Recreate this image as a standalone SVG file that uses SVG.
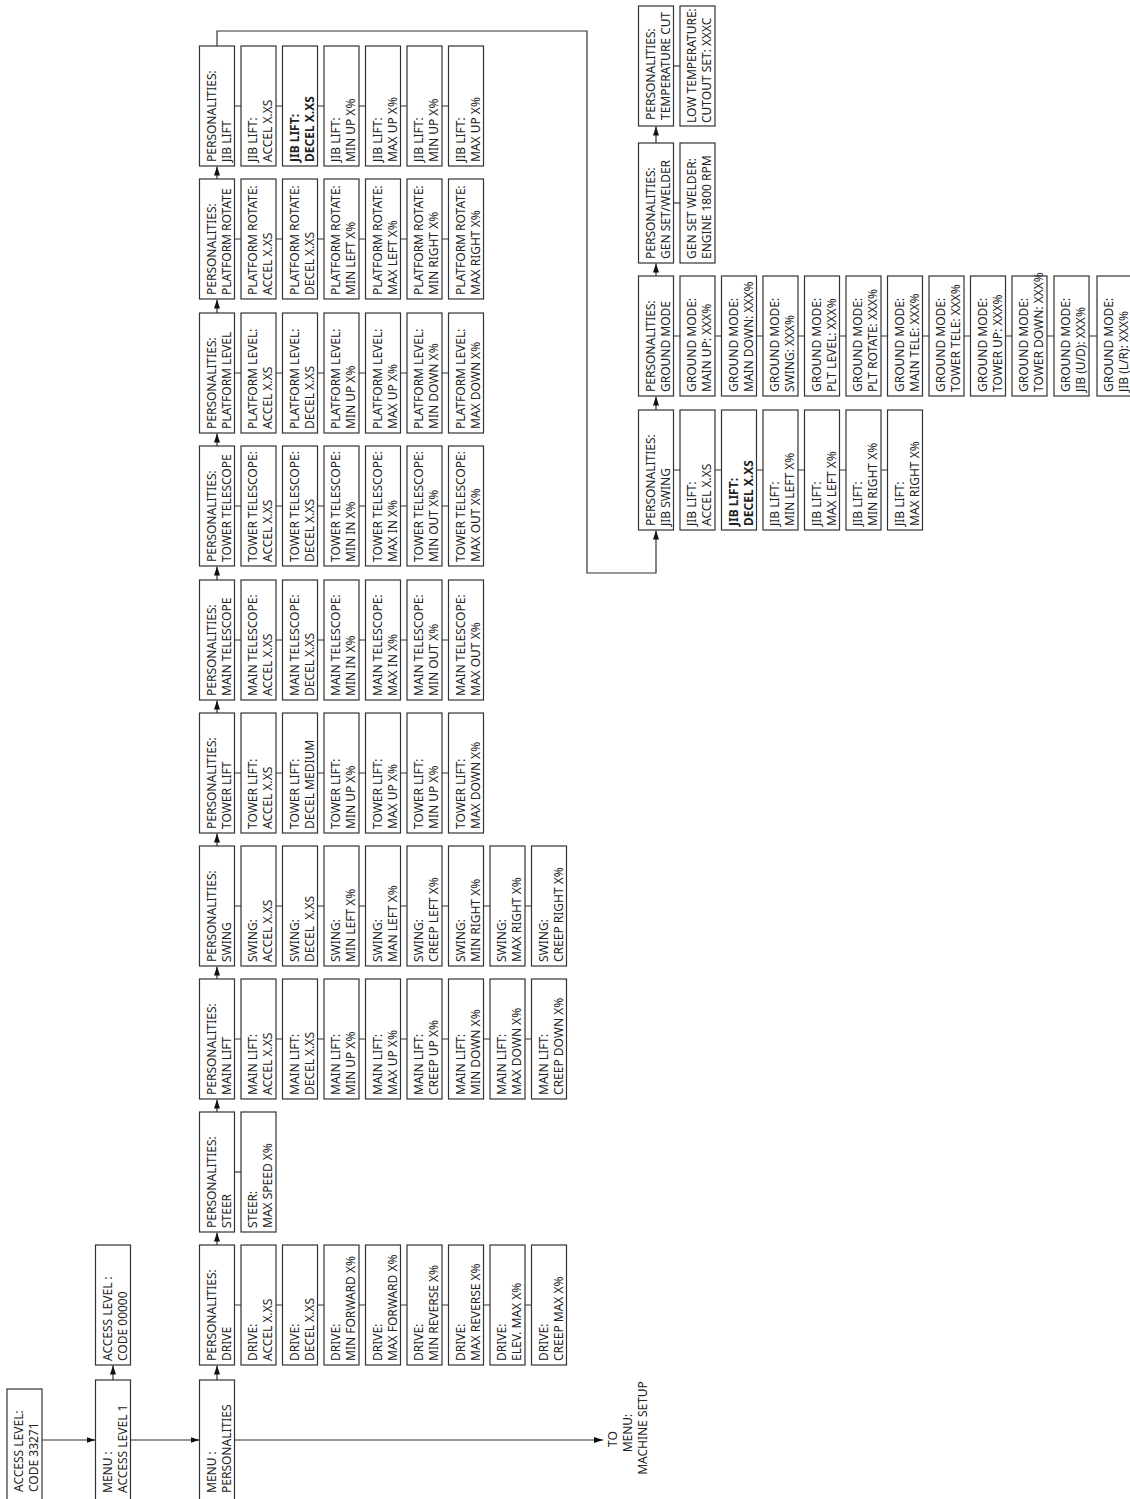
<svg xmlns="http://www.w3.org/2000/svg" width="1130" height="1499" viewBox="0 0 1130 1499">
<style>
.n rect{fill:#fff;stroke:#333;stroke-width:1.2}
.n text{font-family:"Noto Sans","DejaVu Sans",sans-serif;font-size:12px;fill:#222}
.b text{font-weight:bold}
.c{fill:none;stroke:#333;stroke-width:1.2}
.lbl{font-family:"Noto Sans","DejaVu Sans",sans-serif;font-size:12px;fill:#222;text-anchor:middle}
</style>
<defs>
<marker id="ah" markerUnits="userSpaceOnUse" markerWidth="9" markerHeight="6" refX="9" refY="3" orient="auto"><path d="M0,0L9,3L0,6z" fill="#111"/></marker>
</defs>
<rect width="1130" height="1499" fill="#fff"/>
<g id="connectors">
<path class="c" d="M42 1440H95.5" marker-end="url(#ah)"/>
<path class="c" d="M130.5 1440H199.5" marker-end="url(#ah)"/>
<path class="c" d="M234.5 1440H603" marker-end="url(#ah)"/>
<path class="c" d="M113 1380V1365.5" marker-end="url(#ah)"/>
<path class="c" d="M217 1380V1365.5" marker-end="url(#ah)"/>
<path class="c" d="M217 1245V1232.5" marker-end="url(#ah)"/>
<path class="c" d="M217 1112V1099.5" marker-end="url(#ah)"/>
<path class="c" d="M217 979V966.5" marker-end="url(#ah)"/>
<path class="c" d="M217 846V833.5" marker-end="url(#ah)"/>
<path class="c" d="M217 713V700.5" marker-end="url(#ah)"/>
<path class="c" d="M217 580V566.5" marker-end="url(#ah)"/>
<path class="c" d="M217 446V433.5" marker-end="url(#ah)"/>
<path class="c" d="M217 313V299.5" marker-end="url(#ah)"/>
<path class="c" d="M217 179V166.5" marker-end="url(#ah)"/>
<path class="c" d="M217 46V31H587V573H656V530.5" marker-end="url(#ah)"/>
<path class="c" d="M656 410V396.5" marker-end="url(#ah)"/>
<path class="c" d="M656 276V263.5" marker-end="url(#ah)"/>
<path class="c" d="M656 143V126.5" marker-end="url(#ah)"/>
<path class="c" d="M234.5 1305H241M276 1305H282.5M317.5 1305H324M359 1305H365.5M400.5 1305H407M442 1305H448.5M483.5 1305H490M525 1305H531.5"/>
<path class="c" d="M234.5 1172H241"/>
<path class="c" d="M234.5 1039H241M276 1039H282.5M317.5 1039H324M359 1039H365.5M400.5 1039H407M442 1039H448.5M483.5 1039H490M525 1039H531.5"/>
<path class="c" d="M234.5 906H241M276 906H282.5M317.5 906H324M359 906H365.5M400.5 906H407M442 906H448.5M483.5 906H490M525 906H531.5"/>
<path class="c" d="M234.5 773H241M276 773H282.5M317.5 773H324M359 773H365.5M400.5 773H407M442 773H448.5"/>
<path class="c" d="M234.5 640H241M276 640H282.5M317.5 640H324M359 640H365.5M400.5 640H407M442 640H448.5"/>
<path class="c" d="M234.5 506H241M276 506H282.5M317.5 506H324M359 506H365.5M400.5 506H407M442 506H448.5"/>
<path class="c" d="M234.5 373H241M276 373H282.5M317.5 373H324M359 373H365.5M400.5 373H407M442 373H448.5"/>
<path class="c" d="M234.5 239H241M276 239H282.5M317.5 239H324M359 239H365.5M400.5 239H407M442 239H448.5"/>
<path class="c" d="M234.5 106H241M276 106H282.5M317.5 106H324M359 106H365.5M400.5 106H407M442 106H448.5"/>
<path class="c" d="M673.5 66H680"/>
<path class="c" d="M673.5 203H680"/>
<path class="c" d="M673.5 336H680M715 336H721.5M756.5 336H763M798 336H804.5M839.5 336H846M881 336H887.5M922.5 336H929M964 336H970.5M1005.5 336H1012M1047 336H1054M1089 336H1097"/>
<path class="c" d="M673.5 470H680M715 470H721.5M756.5 470H763M798 470H804.5M839.5 470H846M881 470H887.5"/>
</g>

<g id="acc33271" class="n" transform="translate(7,1389)"><rect width="35" height="125"/><text transform="translate(16,103) rotate(-90)"><tspan x="0">ACCESS LEVEL:</tspan><tspan x="0" y="15">CODE 33271</tspan></text></g>
<g id="menu-al1" class="n" transform="translate(95.5,1380)"><rect width="35" height="135"/><text transform="translate(16,113) rotate(-90)"><tspan x="0">MENU :</tspan><tspan x="0" y="15">ACCESS LEVEL 1</tspan></text></g>
<g id="acc00000" class="n" transform="translate(95.5,1245)"><rect width="35" height="120"/><text transform="translate(16,116) rotate(-90)"><tspan x="0">ACCESS LEVEL :</tspan><tspan x="0" y="15">CODE 00000</tspan></text></g>
<g id="menu-pers" class="n" transform="translate(199.5,1380)"><rect width="35" height="135"/><text transform="translate(16,113) rotate(-90)"><tspan x="0">MENU :</tspan><tspan x="0" y="15">PERSONALITIES</tspan></text></g>
<g id="to-setup"><text class="lbl" transform="translate(617,1439) rotate(-90)">TO</text><text class="lbl" transform="translate(632,1433) rotate(-90)">MENU:</text><text class="lbl" transform="translate(647,1428) rotate(-90)">MACHINE SETUP</text></g>

<g id="d0" class="n" transform="translate(199.5,1245)"><rect width="35" height="120"/><text transform="translate(16,116) rotate(-90)"><tspan x="0">PERSONALITIES:</tspan><tspan x="0" y="15">DRIVE</tspan></text></g>
<g id="d1" class="n" transform="translate(241,1245)"><rect width="35" height="120"/><text transform="translate(16,116) rotate(-90)"><tspan x="0">DRIVE:</tspan><tspan x="0" y="15">ACCEL X.XS</tspan></text></g>
<g id="d2" class="n" transform="translate(282.5,1245)"><rect width="35" height="120"/><text transform="translate(16,116) rotate(-90)"><tspan x="0">DRIVE:</tspan><tspan x="0" y="15">DECEL X.XS</tspan></text></g>
<g id="d3" class="n" transform="translate(324,1245)"><rect width="35" height="120"/><text transform="translate(16,116) rotate(-90)"><tspan x="0">DRIVE:</tspan><tspan x="0" y="15">MIN FORWARD X%</tspan></text></g>
<g id="d4" class="n" transform="translate(365.5,1245)"><rect width="35" height="120"/><text transform="translate(16,116) rotate(-90)"><tspan x="0">DRIVE:</tspan><tspan x="0" y="15">MAX FORWARD X%</tspan></text></g>
<g id="d5" class="n" transform="translate(407,1245)"><rect width="35" height="120"/><text transform="translate(16,116) rotate(-90)"><tspan x="0">DRIVE:</tspan><tspan x="0" y="15">MIN REVERSE X%</tspan></text></g>
<g id="d6" class="n" transform="translate(448.5,1245)"><rect width="35" height="120"/><text transform="translate(16,116) rotate(-90)"><tspan x="0">DRIVE:</tspan><tspan x="0" y="15">MAX REVERSE X%</tspan></text></g>
<g id="d7" class="n" transform="translate(490,1245)"><rect width="35" height="120"/><text transform="translate(16,116) rotate(-90)"><tspan x="0">DRIVE:</tspan><tspan x="0" y="15">ELEV. MAX X%</tspan></text></g>
<g id="d8" class="n" transform="translate(531.5,1245)"><rect width="35" height="120"/><text transform="translate(16,116) rotate(-90)"><tspan x="0">DRIVE:</tspan><tspan x="0" y="15">CREEP MAX X%</tspan></text></g>

<g id="st0" class="n" transform="translate(199.5,1112)"><rect width="35" height="120"/><text transform="translate(16,116) rotate(-90)"><tspan x="0">PERSONALITIES:</tspan><tspan x="0" y="15">STEER</tspan></text></g>
<g id="st1" class="n" transform="translate(241,1112)"><rect width="35" height="120"/><text transform="translate(16,116) rotate(-90)"><tspan x="0">STEER:</tspan><tspan x="0" y="15">MAX SPEED X%</tspan></text></g>

<g id="ml0" class="n" transform="translate(199.5,979)"><rect width="35" height="120"/><text transform="translate(16,116) rotate(-90)"><tspan x="0">PERSONALITIES:</tspan><tspan x="0" y="15">MAIN LIFT</tspan></text></g>
<g id="ml1" class="n" transform="translate(241,979)"><rect width="35" height="120"/><text transform="translate(16,116) rotate(-90)"><tspan x="0">MAIN LIFT:</tspan><tspan x="0" y="15">ACCEL X.XS</tspan></text></g>
<g id="ml2" class="n" transform="translate(282.5,979)"><rect width="35" height="120"/><text transform="translate(16,116) rotate(-90)"><tspan x="0">MAIN LIFT:</tspan><tspan x="0" y="15">DECEL X.XS</tspan></text></g>
<g id="ml3" class="n" transform="translate(324,979)"><rect width="35" height="120"/><text transform="translate(16,116) rotate(-90)"><tspan x="0">MAIN LIFT:</tspan><tspan x="0" y="15">MIN UP X%</tspan></text></g>
<g id="ml4" class="n" transform="translate(365.5,979)"><rect width="35" height="120"/><text transform="translate(16,116) rotate(-90)"><tspan x="0">MAIN LIFT:</tspan><tspan x="0" y="15">MAX UP X%</tspan></text></g>
<g id="ml5" class="n" transform="translate(407,979)"><rect width="35" height="120"/><text transform="translate(16,116) rotate(-90)"><tspan x="0">MAIN LIFT:</tspan><tspan x="0" y="15">CREEP UP X%</tspan></text></g>
<g id="ml6" class="n" transform="translate(448.5,979)"><rect width="35" height="120"/><text transform="translate(16,116) rotate(-90)"><tspan x="0">MAIN LIFT:</tspan><tspan x="0" y="15">MIN DOWN X%</tspan></text></g>
<g id="ml7" class="n" transform="translate(490,979)"><rect width="35" height="120"/><text transform="translate(16,116) rotate(-90)"><tspan x="0">MAIN LIFT:</tspan><tspan x="0" y="15">MAX DOWN X%</tspan></text></g>
<g id="ml8" class="n" transform="translate(531.5,979)"><rect width="35" height="120"/><text transform="translate(16,116) rotate(-90)"><tspan x="0">MAIN LIFT:</tspan><tspan x="0" y="15">CREEP DOWN X%</tspan></text></g>

<g id="sw0" class="n" transform="translate(199.5,846)"><rect width="35" height="120"/><text transform="translate(16,116) rotate(-90)"><tspan x="0">PERSONALITIES:</tspan><tspan x="0" y="15">SWING</tspan></text></g>
<g id="sw1" class="n" transform="translate(241,846)"><rect width="35" height="120"/><text transform="translate(16,116) rotate(-90)"><tspan x="0">SWING:</tspan><tspan x="0" y="15">ACCEL X.XS</tspan></text></g>
<g id="sw2" class="n" transform="translate(282.5,846)"><rect width="35" height="120"/><text transform="translate(16,116) rotate(-90)" xml:space="preserve"><tspan x="0">SWING:</tspan><tspan x="0" y="15">DECEL  X.XS</tspan></text></g>
<g id="sw3" class="n" transform="translate(324,846)"><rect width="35" height="120"/><text transform="translate(16,116) rotate(-90)"><tspan x="0">SWING:</tspan><tspan x="0" y="15">MIN LEFT X%</tspan></text></g>
<g id="sw4" class="n" transform="translate(365.5,846)"><rect width="35" height="120"/><text transform="translate(16,116) rotate(-90)"><tspan x="0">SWING:</tspan><tspan x="0" y="15">MAN LEFT X%</tspan></text></g>
<g id="sw5" class="n" transform="translate(407,846)"><rect width="35" height="120"/><text transform="translate(16,116) rotate(-90)"><tspan x="0">SWING:</tspan><tspan x="0" y="15">CREEP LEFT X%</tspan></text></g>
<g id="sw6" class="n" transform="translate(448.5,846)"><rect width="35" height="120"/><text transform="translate(16,116) rotate(-90)"><tspan x="0">SWING:</tspan><tspan x="0" y="15">MIN RIGHT X%</tspan></text></g>
<g id="sw7" class="n" transform="translate(490,846)"><rect width="35" height="120"/><text transform="translate(16,116) rotate(-90)"><tspan x="0">SWING:</tspan><tspan x="0" y="15">MAX RIGHT X%</tspan></text></g>
<g id="sw8" class="n" transform="translate(531.5,846)"><rect width="35" height="120"/><text transform="translate(16,116) rotate(-90)"><tspan x="0">SWING:</tspan><tspan x="0" y="15">CREEP RIGHT X%</tspan></text></g>

<g id="tl0" class="n" transform="translate(199.5,713)"><rect width="35" height="120"/><text transform="translate(16,116) rotate(-90)"><tspan x="0">PERSONALITIES:</tspan><tspan x="0" y="15">TOWER LIFT</tspan></text></g>
<g id="tl1" class="n" transform="translate(241,713)"><rect width="35" height="120"/><text transform="translate(16,116) rotate(-90)"><tspan x="0">TOWER LIFT:</tspan><tspan x="0" y="15">ACCEL X.XS</tspan></text></g>
<g id="tl2" class="n" transform="translate(282.5,713)"><rect width="35" height="120"/><text transform="translate(16,116) rotate(-90)"><tspan x="0">TOWER LIFT:</tspan><tspan x="0" y="15">DECEL MEDIUM</tspan></text></g>
<g id="tl3" class="n" transform="translate(324,713)"><rect width="35" height="120"/><text transform="translate(16,116) rotate(-90)"><tspan x="0">TOWER LIFT:</tspan><tspan x="0" y="15">MIN UP X%</tspan></text></g>
<g id="tl4" class="n" transform="translate(365.5,713)"><rect width="35" height="120"/><text transform="translate(16,116) rotate(-90)"><tspan x="0">TOWER LIFT:</tspan><tspan x="0" y="15">MAX UP X%</tspan></text></g>
<g id="tl5" class="n" transform="translate(407,713)"><rect width="35" height="120"/><text transform="translate(16,116) rotate(-90)"><tspan x="0">TOWER LIFT:</tspan><tspan x="0" y="15">MIN UP X%</tspan></text></g>
<g id="tl6" class="n" transform="translate(448.5,713)"><rect width="35" height="120"/><text transform="translate(16,116) rotate(-90)"><tspan x="0">TOWER LIFT:</tspan><tspan x="0" y="15">MAX DOWN X%</tspan></text></g>

<g id="mt0" class="n" transform="translate(199.5,580)"><rect width="35" height="120"/><text transform="translate(16,116) rotate(-90)"><tspan x="0">PERSONALITIES:</tspan><tspan x="0" y="15">MAIN TELESCOPE</tspan></text></g>
<g id="mt1" class="n" transform="translate(241,580)"><rect width="35" height="120"/><text transform="translate(16,116) rotate(-90)"><tspan x="0">MAIN TELESCOPE:</tspan><tspan x="0" y="15">ACCEL X.XS</tspan></text></g>
<g id="mt2" class="n" transform="translate(282.5,580)"><rect width="35" height="120"/><text transform="translate(16,116) rotate(-90)"><tspan x="0">MAIN TELESCOPE:</tspan><tspan x="0" y="15">DECEL X.XS</tspan></text></g>
<g id="mt3" class="n" transform="translate(324,580)"><rect width="35" height="120"/><text transform="translate(16,116) rotate(-90)"><tspan x="0">MAIN TELESCOPE:</tspan><tspan x="0" y="15">MIN IN X%</tspan></text></g>
<g id="mt4" class="n" transform="translate(365.5,580)"><rect width="35" height="120"/><text transform="translate(16,116) rotate(-90)"><tspan x="0">MAIN TELESCOPE:</tspan><tspan x="0" y="15">MAX IN X%</tspan></text></g>
<g id="mt5" class="n" transform="translate(407,580)"><rect width="35" height="120"/><text transform="translate(16,116) rotate(-90)"><tspan x="0">MAIN TELESCOPE:</tspan><tspan x="0" y="15">MIN OUT X%</tspan></text></g>
<g id="mt6" class="n" transform="translate(448.5,580)"><rect width="35" height="120"/><text transform="translate(16,116) rotate(-90)"><tspan x="0">MAIN TELESCOPE:</tspan><tspan x="0" y="15">MAX OUT X%</tspan></text></g>

<g id="tt0" class="n" transform="translate(199.5,446)"><rect width="35" height="120"/><text transform="translate(16,116) rotate(-90)"><tspan x="0">PERSONALITIES:</tspan><tspan x="0" y="15">TOWER TELESCOPE</tspan></text></g>
<g id="tt1" class="n" transform="translate(241,446)"><rect width="35" height="120"/><text transform="translate(16,116) rotate(-90)"><tspan x="0">TOWER TELESCOPE:</tspan><tspan x="0" y="15">ACCEL X.XS</tspan></text></g>
<g id="tt2" class="n" transform="translate(282.5,446)"><rect width="35" height="120"/><text transform="translate(16,116) rotate(-90)"><tspan x="0">TOWER TELESCOPE:</tspan><tspan x="0" y="15">DECEL X.XS</tspan></text></g>
<g id="tt3" class="n" transform="translate(324,446)"><rect width="35" height="120"/><text transform="translate(16,116) rotate(-90)"><tspan x="0">TOWER TELESCOPE:</tspan><tspan x="0" y="15">MIN IN X%</tspan></text></g>
<g id="tt4" class="n" transform="translate(365.5,446)"><rect width="35" height="120"/><text transform="translate(16,116) rotate(-90)"><tspan x="0">TOWER TELESCOPE:</tspan><tspan x="0" y="15">MAX IN X%</tspan></text></g>
<g id="tt5" class="n" transform="translate(407,446)"><rect width="35" height="120"/><text transform="translate(16,116) rotate(-90)"><tspan x="0">TOWER TELESCOPE:</tspan><tspan x="0" y="15">MIN OUT X%</tspan></text></g>
<g id="tt6" class="n" transform="translate(448.5,446)"><rect width="35" height="120"/><text transform="translate(16,116) rotate(-90)"><tspan x="0">TOWER TELESCOPE:</tspan><tspan x="0" y="15">MAX OUT X%</tspan></text></g>

<g id="pl0" class="n" transform="translate(199.5,313)"><rect width="35" height="120"/><text transform="translate(16,116) rotate(-90)"><tspan x="0">PERSONALITIES:</tspan><tspan x="0" y="15">PLATFORM LEVEL</tspan></text></g>
<g id="pl1" class="n" transform="translate(241,313)"><rect width="35" height="120"/><text transform="translate(16,116) rotate(-90)"><tspan x="0">PLATFORM LEVEL:</tspan><tspan x="0" y="15">ACCEL X.XS</tspan></text></g>
<g id="pl2" class="n" transform="translate(282.5,313)"><rect width="35" height="120"/><text transform="translate(16,116) rotate(-90)"><tspan x="0">PLATFORM LEVEL:</tspan><tspan x="0" y="15">DECEL X.XS</tspan></text></g>
<g id="pl3" class="n" transform="translate(324,313)"><rect width="35" height="120"/><text transform="translate(16,116) rotate(-90)"><tspan x="0">PLATFORM LEVEL:</tspan><tspan x="0" y="15">MIN UP X%</tspan></text></g>
<g id="pl4" class="n" transform="translate(365.5,313)"><rect width="35" height="120"/><text transform="translate(16,116) rotate(-90)"><tspan x="0">PLATFORM LEVEL:</tspan><tspan x="0" y="15">MAX UP X%</tspan></text></g>
<g id="pl5" class="n" transform="translate(407,313)"><rect width="35" height="120"/><text transform="translate(16,116) rotate(-90)"><tspan x="0">PLATFORM LEVEL:</tspan><tspan x="0" y="15">MIN DOWN X%</tspan></text></g>
<g id="pl6" class="n" transform="translate(448.5,313)"><rect width="35" height="120"/><text transform="translate(16,116) rotate(-90)"><tspan x="0">PLATFORM LEVEL:</tspan><tspan x="0" y="15">MAX DOWN X%</tspan></text></g>

<g id="pr0" class="n" transform="translate(199.5,179)"><rect width="35" height="120"/><text transform="translate(16,116) rotate(-90)"><tspan x="0">PERSONALITIES:</tspan><tspan x="0" y="15">PLATFORM ROTATE</tspan></text></g>
<g id="pr1" class="n" transform="translate(241,179)"><rect width="35" height="120"/><text transform="translate(16,116) rotate(-90)"><tspan x="0">PLATFORM ROTATE:</tspan><tspan x="0" y="15">ACCEL X.XS</tspan></text></g>
<g id="pr2" class="n" transform="translate(282.5,179)"><rect width="35" height="120"/><text transform="translate(16,116) rotate(-90)"><tspan x="0">PLATFORM ROTATE:</tspan><tspan x="0" y="15">DECEL X.XS</tspan></text></g>
<g id="pr3" class="n" transform="translate(324,179)"><rect width="35" height="120"/><text transform="translate(16,116) rotate(-90)"><tspan x="0">PLATFORM ROTATE:</tspan><tspan x="0" y="15">MIN LEFT X%</tspan></text></g>
<g id="pr4" class="n" transform="translate(365.5,179)"><rect width="35" height="120"/><text transform="translate(16,116) rotate(-90)"><tspan x="0">PLATFORM ROTATE:</tspan><tspan x="0" y="15">MAX LEFT X%</tspan></text></g>
<g id="pr5" class="n" transform="translate(407,179)"><rect width="35" height="120"/><text transform="translate(16,116) rotate(-90)"><tspan x="0">PLATFORM ROTATE:</tspan><tspan x="0" y="15">MIN RIGHT X%</tspan></text></g>
<g id="pr6" class="n" transform="translate(448.5,179)"><rect width="35" height="120"/><text transform="translate(16,116) rotate(-90)"><tspan x="0">PLATFORM ROTATE:</tspan><tspan x="0" y="15">MAX RIGHT X%</tspan></text></g>

<g id="jl0" class="n" transform="translate(199.5,46)"><rect width="35" height="120"/><text transform="translate(16,116) rotate(-90)"><tspan x="0">PERSONALITIES:</tspan><tspan x="0" y="15">JIB LIFT</tspan></text></g>
<g id="jl1" class="n" transform="translate(241,46)"><rect width="35" height="120"/><text transform="translate(16,116) rotate(-90)"><tspan x="0">JIB LIFT:</tspan><tspan x="0" y="15">ACCEL X.XS</tspan></text></g>
<g id="jl2" class="n b" transform="translate(282.5,46)"><rect width="35" height="120"/><text transform="translate(16,116) rotate(-90)"><tspan x="0">JIB LIFT:</tspan><tspan x="0" y="15">DECEL X.XS</tspan></text></g>
<g id="jl3" class="n" transform="translate(324,46)"><rect width="35" height="120"/><text transform="translate(16,116) rotate(-90)"><tspan x="0">JIB LIFT:</tspan><tspan x="0" y="15">MIN UP X%</tspan></text></g>
<g id="jl4" class="n" transform="translate(365.5,46)"><rect width="35" height="120"/><text transform="translate(16,116) rotate(-90)"><tspan x="0">JIB LIFT:</tspan><tspan x="0" y="15">MAX UP X%</tspan></text></g>
<g id="jl5" class="n" transform="translate(407,46)"><rect width="35" height="120"/><text transform="translate(16,116) rotate(-90)"><tspan x="0">JIB LIFT:</tspan><tspan x="0" y="15">MIN UP X%</tspan></text></g>
<g id="jl6" class="n" transform="translate(448.5,46)"><rect width="35" height="120"/><text transform="translate(16,116) rotate(-90)"><tspan x="0">JIB LIFT:</tspan><tspan x="0" y="15">MAX UP X%</tspan></text></g>

<g id="tc0" class="n" transform="translate(638.5,6)"><rect width="35" height="120"/><text transform="translate(16,114) rotate(-90)"><tspan x="0">PERSONALITIES:</tspan><tspan x="0" y="15">TEMPERATURE CUT</tspan></text></g>
<g id="tc1" class="n" transform="translate(680,6)"><rect width="35" height="120"/><text transform="translate(16,117) rotate(-90)"><tspan x="0">LOW TEMPERATURE:</tspan><tspan x="0" y="15">CUTOUT SET: XXXC</tspan></text></g>

<g id="gs0" class="n" transform="translate(638.5,143)"><rect width="35" height="120"/><text transform="translate(16,116) rotate(-90)"><tspan x="0">PERSONALITIES:</tspan><tspan x="0" y="15">GEN SET/WELDER</tspan></text></g>
<g id="gs1" class="n" transform="translate(680,143)"><rect width="35" height="120"/><text transform="translate(16,116) rotate(-90)"><tspan x="0">GEN SET WELDER:</tspan><tspan x="0" y="15">ENGINE 1800 RPM</tspan></text></g>

<g id="gm0" class="n" transform="translate(638.5,276)"><rect width="35" height="120"/><text transform="translate(16,116) rotate(-90)"><tspan x="0">PERSONALITIES:</tspan><tspan x="0" y="15">GROUND MODE</tspan></text></g>
<g id="gm1" class="n" transform="translate(680,276)"><rect width="35" height="120"/><text transform="translate(16,116) rotate(-90)"><tspan x="0">GROUND MODE:</tspan><tspan x="0" y="15">MAIN UP: XXX%</tspan></text></g>
<g id="gm2" class="n" transform="translate(721.5,276)"><rect width="35" height="120"/><text transform="translate(16,116) rotate(-90)"><tspan x="0">GROUND MODE:</tspan><tspan x="0" y="15">MAIN DOWN: XXX%</tspan></text></g>
<g id="gm3" class="n" transform="translate(763,276)"><rect width="35" height="120"/><text transform="translate(16,116) rotate(-90)"><tspan x="0">GROUND MODE:</tspan><tspan x="0" y="15">SWING: XXX%</tspan></text></g>
<g id="gm4" class="n" transform="translate(804.5,276)"><rect width="35" height="120"/><text transform="translate(16,116) rotate(-90)"><tspan x="0">GROUND MODE:</tspan><tspan x="0" y="15">PLT LEVEL: XXX%</tspan></text></g>
<g id="gm5" class="n" transform="translate(846,276)"><rect width="35" height="120"/><text transform="translate(16,116) rotate(-90)"><tspan x="0">GROUND MODE:</tspan><tspan x="0" y="15">PLT ROTATE: XXX%</tspan></text></g>
<g id="gm6" class="n" transform="translate(887.5,276)"><rect width="35" height="120"/><text transform="translate(16,116) rotate(-90)"><tspan x="0">GROUND MODE:</tspan><tspan x="0" y="15">MAIN TELE: XXX%</tspan></text></g>
<g id="gm7" class="n" transform="translate(929,276)"><rect width="35" height="120"/><text transform="translate(16,116) rotate(-90)"><tspan x="0">GROUND MODE:</tspan><tspan x="0" y="15">TOWER TELE: XXX%</tspan></text></g>
<g id="gm8" class="n" transform="translate(970.5,276)"><rect width="35" height="120"/><text transform="translate(16,116) rotate(-90)"><tspan x="0">GROUND MODE:</tspan><tspan x="0" y="15">TOWER UP: XXX%</tspan></text></g>
<g id="gm9" class="n" transform="translate(1012,276)"><rect width="35" height="120"/><text transform="translate(16,116) rotate(-90)"><tspan x="0">GROUND MODE:</tspan><tspan x="0" y="15">TOWER DOWN: XXX%</tspan></text></g>
<g id="gm10" class="n" transform="translate(1054,276)"><rect width="35" height="120"/><text transform="translate(16,116) rotate(-90)"><tspan x="0">GROUND MODE:</tspan><tspan x="0" y="15">JIB (U/D): XXX%</tspan></text></g>
<g id="gm11" class="n" transform="translate(1097,276)"><rect width="35" height="120"/><text transform="translate(16,116) rotate(-90)"><tspan x="0">GROUND MODE:</tspan><tspan x="0" y="15">JIB (L/R): XXX%</tspan></text></g>

<g id="js0" class="n" transform="translate(638.5,410)"><rect width="35" height="120"/><text transform="translate(16,116) rotate(-90)"><tspan x="0">PERSONALITIES:</tspan><tspan x="0" y="15">JIB SWING</tspan></text></g>
<g id="js1" class="n" transform="translate(680,410)"><rect width="35" height="120"/><text transform="translate(16,116) rotate(-90)"><tspan x="0">JIB LIFT:</tspan><tspan x="0" y="15">ACCEL X.XS</tspan></text></g>
<g id="js2" class="n b" transform="translate(721.5,410)"><rect width="35" height="120"/><text transform="translate(16,116) rotate(-90)"><tspan x="0">JIB LIFT:</tspan><tspan x="0" y="15">DECEL X.XS</tspan></text></g>
<g id="js3" class="n" transform="translate(763,410)"><rect width="35" height="120"/><text transform="translate(16,116) rotate(-90)"><tspan x="0">JIB LIFT:</tspan><tspan x="0" y="15">MIN LEFT X%</tspan></text></g>
<g id="js4" class="n" transform="translate(804.5,410)"><rect width="35" height="120"/><text transform="translate(16,116) rotate(-90)"><tspan x="0">JIB LIFT:</tspan><tspan x="0" y="15">MAX LEFT X%</tspan></text></g>
<g id="js5" class="n" transform="translate(846,410)"><rect width="35" height="120"/><text transform="translate(16,116) rotate(-90)"><tspan x="0">JIB LIFT:</tspan><tspan x="0" y="15">MIN RIGHT X%</tspan></text></g>
<g id="js6" class="n" transform="translate(887.5,410)"><rect width="35" height="120"/><text transform="translate(16,116) rotate(-90)"><tspan x="0">JIB LIFT:</tspan><tspan x="0" y="15">MAX RIGHT X%</tspan></text></g>
</svg>
